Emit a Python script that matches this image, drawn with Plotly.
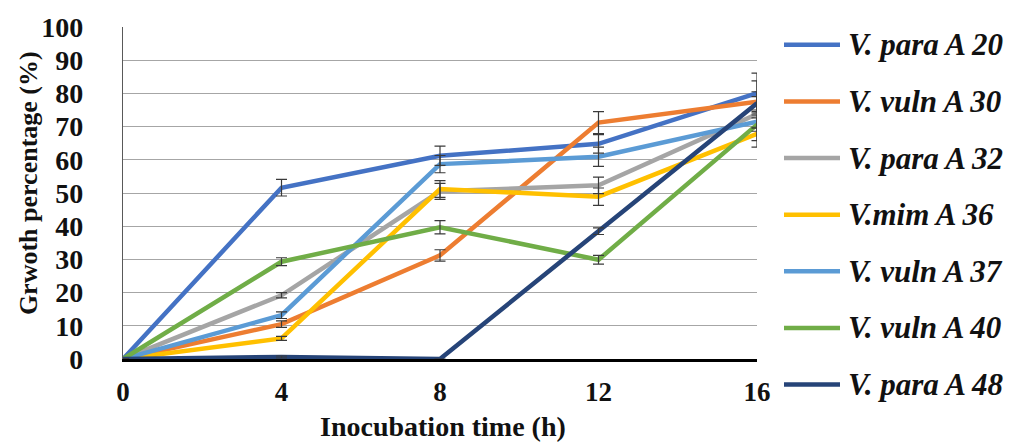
import plotly.graph_objects as go

# Incubation times (h)
hours = [0, 4, 8, 12, 16]

# Growth percentage (%) per isolate, with standard deviations
series_names = ["V. para A 20", "V. vuln A 30", "V. para A 32", "V.mim A 36",
                "V. vuln A 37", "V. vuln A 40", "V. para A 48"]

para_a20 = [0, 51.6, 61.2, 64.8, 80.1]
vuln_a30 = [0, 10.5, 31.2, 71.2, 77.5]
para_a32 = [0, 19.2, 50.5, 52.3, 73.8]
mim_a36 = [0, 6.2, 51.2, 48.9, 67.8]
vuln_a37 = [0, 13.2, 58.7, 60.9, 71.5]
vuln_a40 = [0, 29.3, 39.7, 29.9, 70.6]
para_a48 = [0, 0.6, 0, 38.5, 77.0]

sd_a20 = [0, 2.5, 2.9, 2.8, 6.0]
sd_a30 = [0, 1.0, 1.7, 3.3, 3.0]
sd_a32 = [0, 0.8, 2.4, 2.5, 10.0]
sd_a36 = [0, 0.6, 2.5, 2.6, 2.0]
sd_a37 = [0, 1.0, 2.6, 2.9, 2.0]
sd_a40 = [0, 1.2, 2.0, 1.3, 2.0]
sd_a48 = [0, 0.3, 0, 1.0, 2.0]

y_ticks = [0, 10, 20, 30, 40, 50, 60, 70, 80, 90, 100]
x_ticks = [0, 4, 8, 12, 16]

values = [para_a20, vuln_a30, para_a32, mim_a36, vuln_a37, vuln_a40, para_a48]
errors = [sd_a20, sd_a30, sd_a32, sd_a36, sd_a37, sd_a40, sd_a48]
colors = ["#4472C4", "#ED7D31", "#A5A5A5", "#FFC000", "#5B9BD5", "#70AD47", "#264478"]

W, H = 1026, 442
L, R, T, B = 123, 269, 23, 83
SERIF = "Liberation Serif, Times New Roman, serif"

fig = go.Figure()

# lines first
for name, ys, col in zip(series_names, values, colors):
    fig.add_trace(go.Scatter(
        x=hours, y=ys, name=name, mode="lines",
        line=dict(color=col, width=4.5),
        showlegend=False, hoverinfo="skip",
    ))

# error bars drawn above all lines
for ys, err in zip(values, errors):
    fig.add_trace(go.Scatter(
        x=hours, y=ys, mode="markers",
        marker=dict(size=1, opacity=0),
        error_y=dict(type="data", array=err, visible=True,
                     color="#3A3A3A", thickness=1.2, width=5.5),
        showlegend=False, hoverinfo="skip", cliponaxis=True,
    ))

# legend drawn by hand at the right
plot_w = W - L - R
plot_h = H - T - B


def px_x(px):
    return (px - L) / plot_w


def px_y(py):
    return (H - B - py) / plot_h


shapes = []
annotations = []
legend_top = 41
legend_step = 57.3
for i, (name, col) in enumerate(zip(series_names, colors)):
    yy = px_y(legend_top + i * legend_step)
    shapes.append(dict(type="line", xref="paper", yref="paper",
                       x0=px_x(784), x1=px_x(840), y0=yy, y1=yy,
                       line=dict(color=col, width=4.5)))
    annotations.append(dict(xref="paper", yref="paper", x=px_x(846), y=yy,
                            text="<b><i>" + name + "</i></b>", showarrow=False,
                            xanchor="left", yanchor="middle",
                            font=dict(family=SERIF, size=31, color="#111111")))

# axis titles
annotations.append(dict(xref="paper", yref="paper", x=px_x(28), y=px_y(181),
                        text="<b>Grwoth percentage (%)</b>", textangle=-90,
                        showarrow=False, xanchor="center", yanchor="middle",
                        font=dict(family=SERIF, size=26, color="#111111")))
annotations.append(dict(xref="paper", yref="paper", x=px_x(443), y=px_y(427),
                        text="<b>Inocubation time (h)</b>",
                        showarrow=False, xanchor="center", yanchor="middle",
                        font=dict(family=SERIF, size=28, color="#111111")))

fig.update_layout(
    width=W, height=H,
    margin=dict(l=L, r=R, t=T, b=B, pad=0),
    paper_bgcolor="white", plot_bgcolor="white",
    shapes=shapes, annotations=annotations,
    showlegend=False,
)

fig.update_xaxes(
    range=[0, 16], tickvals=x_ticks, ticktext=["<b>%d</b>" % v for v in x_ticks],
    showgrid=False, zeroline=False,
    showline=True, linecolor="#000000", linewidth=2.5,
    ticks="", ticklabelstandoff=7,
    tickfont=dict(family=SERIF, size=27, color="#111111"),
)
fig.update_yaxes(
    range=[0, 100], tickvals=y_ticks, ticktext=["<b>%d</b>" % v for v in y_ticks],
    showgrid=True, gridcolor="#A6A6A6", gridwidth=1.3,
    zeroline=False, showline=True, linecolor="#595959", linewidth=1.2,
    ticks="", ticklabelstandoff=33,
    tickfont=dict(family=SERIF, size=28, color="#111111"),
)

fig.write_html("out.html")
